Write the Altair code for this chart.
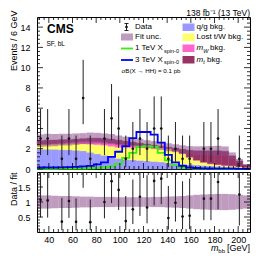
import altair as alt
import pandas as pd

FONT = "Liberation Sans"

# ---------------- data ----------------
edges = list(range(30, 211, 6))
bin_lo = edges[:-1]
bin_hi = edges[1:]
centers = [(a + b) / 2 for a, b in zip(bin_lo, bin_hi)]

components = ["q/g bkg.", "Lost t/W bkg.", "m_W bkg.", "m_t bkg."]
comp_colors = ["#9999ff", "#ffff66", "#ff66cc", "#993366"]

qg = [1.95, 1.95, 1.95, 1.9, 1.9, 1.85, 1.8, 1.65, 1.5, 1.35, 1.2, 1.05, 0.95, 0.9, 0.85,
      0.8, 0.75, 0.7, 0.62, 0.56, 0.5, 0.45, 0.4, 0.35, 0.3, 0.27, 0.23, 0.2, 0.15, 0.1]
lost_tw = [0.45, 0.45, 0.5, 0.55, 0.6, 0.65, 0.7, 0.8, 0.9, 1.0, 1.05, 1.1, 1.15, 1.2, 1.25,
           1.3, 1.35, 1.35, 1.35, 1.2, 1.0, 0.7, 0.45, 0.3, 0.2, 0.15, 0.12, 0.1, 0.08, 0.05]
m_w = [0.05, 0.05, 0.05, 0.1, 0.1, 0.15, 0.2, 0.25, 0.3, 0.3, 0.3, 0.3, 0.3, 0.25, 0.2,
       0.15, 0.1, 0.08, 0.06, 0.05, 0.05, 0.04, 0.04, 0.03, 0.03, 0.03, 0.02, 0.02, 0.02, 0.01]
m_t = [0.35, 0.4, 0.35, 0.35, 0.3, 0.3, 0.3, 0.35, 0.35, 0.35, 0.4, 0.4, 0.35, 0.3, 0.25,
       0.2, 0.15, 0.12, 0.12, 0.24, 0.4, 0.66, 0.91, 1.12, 1.27, 1.35, 1.38, 0.98, 0.55, 0.24]
fit_unc = [0.22, 0.22, 0.21, 0.2, 0.2, 0.19, 0.18, 0.18, 0.17, 0.17, 0.17, 0.16, 0.16, 0.16, 0.16,
           0.16, 0.17, 0.17, 0.18, 0.19, 0.2, 0.22, 0.24, 0.25, 0.26, 0.27, 0.27, 0.26, 0.24, 0.22]
sig_1tev = [0.02, 0.02, 0.02, 0.03, 0.03, 0.04, 0.05, 0.07, 0.1, 0.15, 0.25, 0.5, 1.1, 1.6, 2.2,
            2.25, 2.2, 1.6, 0.85, 0.35, 0.15, 0.08, 0.05, 0.04, 0.03, 0.02, 0.02, 0.02, 0.01, 0.01]
sig_3tev = [0.15, 0.15, 0.15, 0.17, 0.18, 0.2, 0.25, 0.3, 0.45, 0.65, 1.2, 1.7, 2.25, 3.05, 3.65,
            3.65, 3.4, 2.6, 1.4, 0.65, 0.3, 0.15, 0.1, 0.07, 0.05, 0.04, 0.03, 0.03, 0.02, 0.02]
data_counts = [3, 3, None, 1, 3, 1, 7, 1, None, 3, 5, 4, 1, 2, 3,
               2, 4, 4, 1, 2, 1, 1, None, 2, 2, 3, None, None, 1, None]
# 68% Garwood intervals for small counts
garwood = {1: (0.173, 3.300), 2: (0.708, 4.638), 3: (1.367, 5.918), 4: (2.086, 7.163),
           5: (2.840, 8.382), 6: (3.620, 9.584), 7: (4.419, 10.77)}

main_y_ticks = list(range(0, 15, 2))
ratio_y_ticks = [0.5, 1.0, 1.5]
x_ticks = list(range(40, 201, 20))

# ---------------- tables ----------------
totals = [a + b + c + d for a, b, c, d in zip(qg, lost_tw, m_w, m_t)]

rows = []
for i in range(len(bin_lo)):
    base = 0.0
    for name, vals in zip(components, [qg, lost_tw, m_w, m_t]):
        rows.append(dict(lo=bin_lo[i], hi=bin_hi[i], y0=base, y1=base + vals[i], comp=name))
        base += vals[i]
stack_df = pd.DataFrame(rows)

band_df = pd.DataFrame(dict(lo=bin_lo, hi=bin_hi,
                            b0=[t * (1 - u) for t, u in zip(totals, fit_unc)],
                            b1=[t * (1 + u) for t, u in zip(totals, fit_unc)],
                            r0=[1 - u for u in fit_unc], r1=[1 + u for u in fit_unc]))

line_rows = []
for name, vals in [("1 TeV", sig_1tev), ("3 TeV", sig_3tev)]:
    for j, e in enumerate(edges):
        line_rows.append(dict(x=e, v=vals[min(j, len(vals) - 1)], s=name))
line_df = pd.DataFrame(line_rows)

drows = []
for c, n, t in zip(centers, data_counts, totals):
    if n is None:
        continue
    lo, hi = garwood[n]
    drows.append(dict(c=c, n=n, lo=lo, hi=hi, r=n / t, rlo=lo / t, rhi=hi / t))
data_df = pd.DataFrame(drows)

# ---------------- helpers ----------------
W = 213
HM = 152
HR = 60
BAND = "#8a4a8a"
BAND_OP = 0.55

xs = alt.Scale(domain=[30, 210], nice=False, zero=False)
ys_main = alt.Scale(domain=[0, 15], nice=False)
ys_ratio = alt.Scale(domain=[0, 2], nice=False)

ax_x_main = None
ax_x_ratio = alt.Axis(values=x_ticks, format="d", title=None, labelPadding=3)
ax_y_main = alt.Axis(values=main_y_ticks, format="d", title="Events / 6 GeV", titleX=-24, titleY=-7,
                     titleAngle=-90, titleAlign="right", titleBaseline="middle", labelPadding=7)
ax_y_ratio = alt.Axis(values=ratio_y_ticks, format="~g", title="Data / fit", titleX=-24, titleY=0,
                      titleAngle=-90, titleAlign="right", titleBaseline="middle", labelPadding=7)

one = pd.DataFrame({"a": [0]})


def ticks(ymaj, ymin, yscale, yaxis, xaxis, H, lmaj, lmin):
    layers = []
    xmin_vals = [v for v in range(32, 210, 4) if v % 20 != 0]
    for vals, L in ((ymaj, lmaj), (ymin, lmin)):
        df = pd.DataFrame({"v": vals})
        b = alt.Chart(df).mark_rule(color="black", strokeWidth=0.8)
        Y = alt.Y("v:Q", scale=yscale, axis=yaxis)
        layers.append(b.encode(y=Y, x=alt.value(0), x2=alt.value(L)))
        layers.append(b.encode(y=Y, x=alt.value(W), x2=alt.value(W - L)))
    for vals, L in ((x_ticks, lmaj), (xmin_vals, lmin)):
        df = pd.DataFrame({"v": vals})
        b = alt.Chart(df).mark_rule(color="black", strokeWidth=0.8)
        X = alt.X("v:Q", scale=xs, axis=xaxis)
        layers.append(b.encode(x=X, y=alt.value(H), y2=alt.value(H - L)))
        layers.append(b.encode(x=X, y=alt.value(0), y2=alt.value(L)))
    return layers


def txt(t, x, y, size=8, align="left", baseline="middle", **kw):
    return alt.Chart(one).mark_text(text=t, align=align, baseline=baseline, fontSize=size,
                                    font=FONT, color="black", **kw).encode(
        x=alt.value(x), y=alt.value(y))


def box(x, y, w, h, color, **kw):
    return alt.Chart(one).mark_rect(color=color, **kw).encode(
        x=alt.value(x), x2=alt.value(x + w), y=alt.value(y), y2=alt.value(y + h))


def hline(x, y, w, color, width=1.8):
    return alt.Chart(one).mark_rule(color=color, strokeWidth=width).encode(
        x=alt.value(x), x2=alt.value(x + w), y=alt.value(y))


# ---------------- main panel ----------------
Xm = lambda f: alt.X(f, scale=xs, axis=ax_x_main)
Ym = lambda f: alt.Y(f, scale=ys_main, axis=ax_y_main)

stack = alt.Chart(stack_df).mark_rect(strokeWidth=0.4).encode(
    x=Xm("lo:Q"), x2="hi:Q", y=Ym("y0:Q"), y2="y1:Q",
    fill=alt.Fill("comp:N", scale=alt.Scale(domain=components, range=comp_colors), legend=None),
    stroke=alt.Stroke("comp:N", scale=alt.Scale(domain=components, range=comp_colors), legend=None),
)
band = alt.Chart(band_df).mark_rect(color=BAND, opacity=BAND_OP).encode(
    x=Xm("lo:Q"), x2="hi:Q", y=Ym("b0:Q"), y2="b1:Q")
lines = alt.Chart(line_df).mark_line(interpolate="step-after", strokeWidth=1.8).encode(
    x=Xm("x:Q"), y=Ym("v:Q"),
    color=alt.Color("s:N", scale=alt.Scale(domain=["1 TeV", "3 TeV"], range=["#33ee11", "#0000ff"]),
                    legend=None))
err = alt.Chart(data_df).mark_rule(color="#222222", strokeWidth=1).encode(
    x=Xm("c:Q"), y=Ym("lo:Q"), y2="hi:Q")
pts = alt.Chart(data_df).mark_circle(color="#111111", size=7, opacity=1).encode(
    x=Xm("c:Q"), y=Ym("n:Q"))

legend_layers = [
    txt("CMS", 10, 12, size=12, fontWeight="bold"),
    txt("SF, bL", 9.5, 27, size=6.5),
    txt("138 fb\u207b\u00b9 (13 TeV)", W, -8.5, size=8.5, align="right", baseline="top"),
    # left column
    alt.Chart(one).mark_rule(color="#222222", strokeWidth=1).encode(
        x=alt.value(89.5), y=alt.value(6.5), y2=alt.value(13.5)),
    hline(87.5, 6.5, 4, "#222222", 1), hline(87.5, 13.5, 4, "#222222", 1),
    alt.Chart(one).mark_circle(color="#111111", size=7, opacity=1).encode(
        x=alt.value(89.5), y=alt.value(10)),
    txt("Data", 98, 10),
    box(84, 16.5, 12, 7, BAND, opacity=BAND_OP),
    txt("Fit unc.", 98, 20),
    hline(84, 31.5, 12, "#33ee11"),
    txt("1 TeV X", 98, 31),
    txt("spin-0", 127, 33.5, size=5.5),
    hline(84, 43, 12, "#0000ff"),
    txt("3 TeV X", 98, 42.5),
    txt("spin-0", 127, 45, size=5.5),
    txt("\u03c3B(X \u2192 HH) = 0.1 pb", 84.5, 53.5, size=6.2),
    # right column
    box(145.5, 6.5, 12, 7.5, comp_colors[0]),
    txt("q/g bkg.", 159.5, 10),
    box(145.5, 16.5, 12, 7.5, comp_colors[1]),
    txt("Lost t/W bkg.", 159.5, 20),
    box(145.5, 27.5, 12, 7.5, comp_colors[2]),
    txt("m", 159.5, 31, fontStyle="italic"),
    txt("W", 166.3, 33.5, size=5.5, fontStyle="italic"),
    txt("bkg.", 173, 31),
    box(145.5, 39, 12, 7.5, comp_colors[3]),
    txt("m", 159.5, 42.5, fontStyle="italic"),
    txt("t", 166.3, 45, size=5.5, fontStyle="italic"),
    txt("bkg.", 170, 42.5),
]

main = alt.layer(
    stack, band, lines, err, pts,
    *ticks(main_y_ticks, [v / 10 for v in range(0, 151, 4) if v % 20 != 0], ys_main, ax_y_main,
           ax_x_main, HM, 6, 3),
    *legend_layers,
).properties(width=W, height=HM)

# ---------------- ratio panel ----------------
Xr = lambda f: alt.X(f, scale=xs, axis=ax_x_ratio)
Yr = lambda f: alt.Y(f, scale=ys_ratio, axis=ax_y_ratio)

rband = alt.Chart(band_df).mark_rect(color=BAND, opacity=BAND_OP).encode(
    x=Xr("lo:Q"), x2="hi:Q", y=Yr("r0:Q"), y2="r1:Q")
rerr = alt.Chart(data_df).mark_rule(color="#222222", strokeWidth=1, clip=True).encode(
    x=Xr("c:Q"), y=Yr("rlo:Q"), y2="rhi:Q")
rpts = alt.Chart(data_df).mark_circle(color="#111111", size=7, opacity=1, clip=True).encode(
    x=Xr("c:Q"), y=Yr("r:Q"))

ratio_minor = [v / 10 for v in range(1, 20) if v % 5 != 0]
ratio = alt.layer(
    rband, rerr, rpts,
    *ticks(ratio_y_ticks, ratio_minor, ys_ratio, ax_y_ratio, ax_x_ratio, HR, 6, 3),
    txt("[GeV]", W, 76, size=9, align="right"),
    txt("bb", 188, 78.5, size=6, align="right"),
    txt("m", 181.5, 76, size=9, align="right", fontStyle="italic"),
).properties(width=W, height=HR)

chart = alt.vconcat(main, ratio, spacing=3, bounds="flush").properties(padding=0).configure_view(
    stroke="black", strokeWidth=1
).configure_axis(
    labelFont=FONT, labelFontSize=9, labelColor="black", titleFont=FONT, titleFontSize=9,
    titleFontWeight="normal", titleColor="black", ticks=False, domain=False, grid=False,
)

chart.save("out.html", embed_options={"renderer": "svg", "actions": False})
